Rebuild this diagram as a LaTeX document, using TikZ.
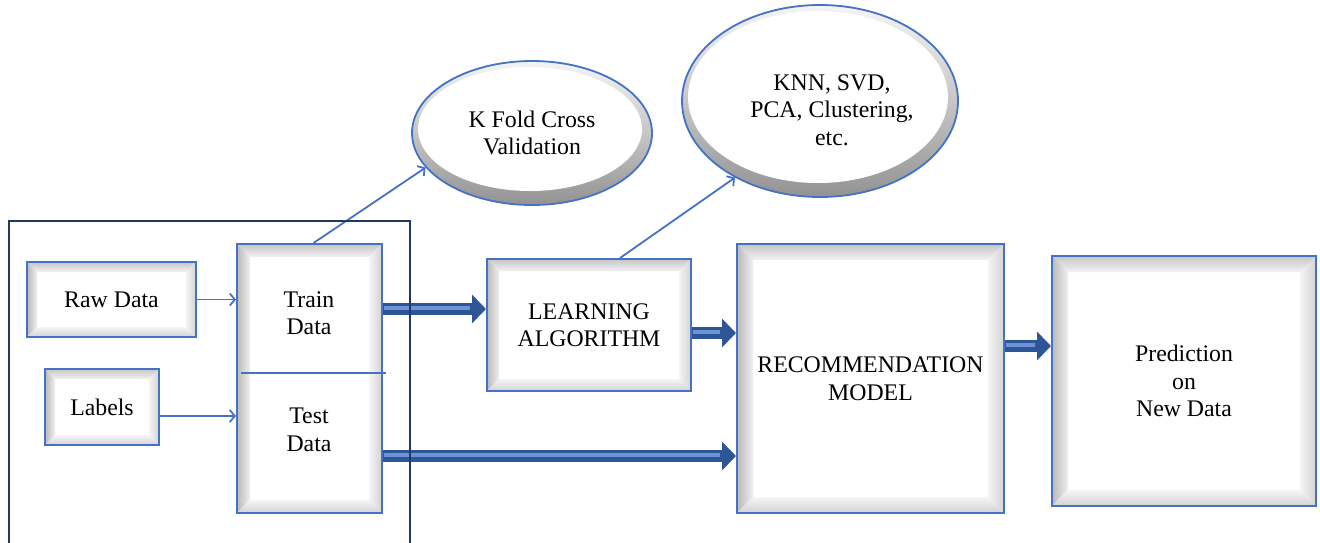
\documentclass[tikz,border=0pt]{standalone}
\usepackage{fontspec}
\setmainfont{Liberation Serif}
\usetikzlibrary{arrows.meta,shapes.geometric,calc}
\definecolor{boxblue}{HTML}{4472C4}
\definecolor{navy}{HTML}{1F3864}
\definecolor{arrowblue}{HTML}{2E5596}
\definecolor{arrowlight}{HTML}{6C93D4}
\newcommand\bevelfill[1]{%
  \coordinate (bnw) at (path picture bounding box.north west);
  \coordinate (bne) at (path picture bounding box.north east);
  \coordinate (bsw) at (path picture bounding box.south west);
  \coordinate (bse) at (path picture bounding box.south east);
  \shade[top color=gray!45, bottom color=gray!10]
    (bnw) -- (bne) -- ([shift={(-#1,#1)}]bne) -- ([shift={(#1,#1)}]bnw) -- cycle;
  \shade[left color=gray!55, right color=gray!12]
    (bnw) -- ([shift={(#1,#1)}]bnw) -- ([shift={(#1,-#1)}]bsw) -- (bsw) -- cycle;
  \shade[left color=gray!8, right color=gray!35]
    (bne) -- (bse) -- ([shift={(-#1,-#1)}]bse) -- ([shift={(-#1,#1)}]bne) -- cycle;
  \shade[top color=gray!8, bottom color=gray!35]
    (bsw) -- (bse) -- ([shift={(-#1,-#1)}]bse) -- ([shift={(#1,-#1)}]bsw) -- cycle;
}
\tikzset{
  every node/.style={font=\fontsize{23.8}{27.5}\selectfont, align=center, inner sep=0pt},
  bevelbox/.style n args={3}{rectangle, draw=boxblue, line width=2pt, fill=white,
    minimum width=#1pt, minimum height=#2pt, path picture={\bevelfill{#3}}},
  ringell/.style 2 args={ellipse, draw=boxblue, line width=1.8pt,
    minimum width=#1pt, minimum height=#2pt,
    path picture={
      \shade[top color=gray!8, bottom color=gray!85, middle color=gray!45]
        (path picture bounding box.south west) rectangle (path picture bounding box.north east);
      \fill[white] ([xshift=-2pt,yshift=4pt]path picture bounding box.center)
        ellipse [x radius={#1pt/2-8pt}, y radius={#2pt/2-10pt}];}},
  thinarrow/.style={draw=boxblue, line width=1.8pt, -{Straight Barb[length=5pt,width=12pt]}},
  fat/.style={draw=arrowblue, line width=12pt, -{Triangle[length=14pt,width=28pt]},
    postaction={draw=arrowlight, line width=4pt, -, shorten >=16pt, shorten <=1pt,
      transform canvas={yshift=1.5pt}}},
}
\begin{document}
\begin{tikzpicture}[x=1pt,y=-1pt]
\useasboundingbox (0,0) rectangle (1320,542);
\fill[white] (0,0) rectangle (1320,542);
\clip (0,0) rectangle (1320,542);

% ellipses
\node[ringell={240}{144}] (kfold) at (532,133) {K Fold Cross\\Validation};
\node[ringell={276}{192}] (knn) at (820,101) {};
\node (knntxt) at (832,110) {KNN, SVD,\\PCA, Clustering,\\etc.};

% boxes
\node[bevelbox={169}{75}{10}] (raw) at (111.5,299.5) {Raw Data};
\node[bevelbox={114}{76}{10}] (labels) at (102,407) {Labels};
\node[bevelbox={145}{269}{13}] (train) at (309.5,378.5) {};
\node (traintxt) at (309,313) {Train\\Data};
\node (testtxt) at (309,430) {Test\\Data};
\draw[boxblue, line width=1.8pt] ([xshift=5pt,yshift=5.5pt]train.west) -- ([xshift=3pt,yshift=5.5pt]train.east);
\node[bevelbox={204}{132}{12}] (learn) at (589,325) {LEARNING\\ALGORITHM};
\node[bevelbox={267}{269}{16}] (rec) at (870.5,378.5) {RECOMMENDATION\\MODEL};
\node[bevelbox={264}{250}{16}] (pred) at (1184,381) {Prediction\\on\\New Data};

% thin arrows
\draw[thinarrow] (raw.east) -- (train.west |- raw.east);
\coordinate (lab) at ([yshift=-9pt]labels.east);
\draw[thinarrow] (lab) -- (train.west |- lab);
\draw[thinarrow] ([xshift=4pt]train.north) -- (kfold.198);
\draw[thinarrow] ([xshift=31pt]learn.north) -- (knn.222);

% fat arrows
\draw[fat] ([yshift=-66pt]train.north east) -- ([yshift=-51pt]learn.north west);
\draw[fat] ([yshift=-75pt]learn.north east) -- ([yshift=-90pt]rec.north west);
\draw[fat] ([yshift=58pt]train.south east) -- ([yshift=58pt]rec.south west);
\draw[fat] ([yshift=-103pt]rec.north east) -- ([yshift=-91pt]pred.north west);

% outer frame
\node[draw=navy, line width=2pt, minimum width=401pt, minimum height=360pt, anchor=north west] (frame) at (8,220) {};
\end{tikzpicture}
\end{document}
